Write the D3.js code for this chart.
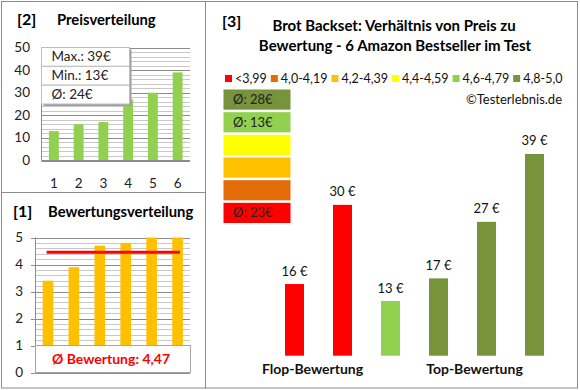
<!DOCTYPE html>
<meta charset="utf-8" />
<title>Brot Backset</title>
<script src="https://cdn.jsdelivr.net/npm/d3@7"></script>

<style>
  body {
    margin: 0;
    padding: 0;
    background: #fff;
    font-family: Lato, "Open Sans", sans-serif;
  }

  .frame {
    fill: #fff;
    stroke: #8c8c8c;
    stroke-width: 1;
  }

  .tick-label {
    font-size: 13.5px;
    fill: #222;
  }
</style>

<body>
  <div id="chart"></div>
</body>

<script>
  // panel [2] prices (sorted)
  var priceCats = ["1", "2", "3", "4", "5", "6"];
  var priceValues = [13, 16, 17, 27, 30, 39];
  var priceTicks = [0, 10, 20, 30, 40, 50];
  var priceStats = ["Max.: 39€", "Min.: 13€", "Ø: 24€"];

  // panel [1] ratings
  var ratingCats = ["1", "2", "3", "4", "5", "6"];
  var ratingValues = [3.4, 3.9, 4.7, 4.8, 5.0, 5.0];
  var ratingTicks = [0, 1, 2, 3, 4, 5];
  var ratingAvg = 4.45;
  var ratingAvgLabel = "Ø Bewertung: 4,47";

  // panel [3] price vs rating
  var mainPrices = [16, 30, 13, 17, 27, 39];
  var mainColors = ["#FF0000", "#FF0000", "#92D050", "#77933C", "#77933C", "#77933C"];
  var mainLabels = ["16 €", "30 €", "13 €", "17 €", "27 €", "39 €"];
  var groupLabels = ["Flop-Bewertung", "Top-Bewertung"];

  var legendNames = ["<3,99", "4,0-4,19", "4,2-4,39", "4,4-4,59", "4,6-4,79", "4,8-5,0"];
  var legendColors = ["#FF0000", "#E36C09", "#FFC000", "#FFFF00", "#92D050", "#77933C"];
  var stackColors = ["#77933C", "#92D050", "#FFFF00", "#FFC000", "#E36C09", "#FF0000"];
  var stackLabels = ["Ø: 28€", "Ø: 13€", "", "", "", "Ø: 23€"];

  var svg = d3.select("#chart").append("svg")
    .attr("width", 580)
    .attr("height", 390);

  // panel frames
  svg.append("rect").attr("class", "frame").attr("x", 1.5).attr("y", 1.5).attr("width", 204).attr("height", 191);
  svg.append("rect").attr("class", "frame").attr("x", 1.5).attr("y", 192.5).attr("width", 204).attr("height", 195.5);
  svg.append("rect").attr("class", "frame").attr("x", 205.5).attr("y", 1.5).attr("width", 372).attr("height", 386.5);

  // ---------- panel [2] Preisverteilung ----------
  var p2 = svg.append("g");
  p2.append("text").attr("x", 17).attr("y", 25).style("font-size", "16px").style("font-weight", "bold").text("[2]");
  p2.append("text").attr("x", 57).attr("y", 25).style("font-size", "14.8px").style("font-weight", "bold").text("Preisverteilung");

  var x2 = d3.scaleBand().domain(priceCats).range([41.5, 190]).paddingInner(0.6).paddingOuter(0.3);
  var y2 = d3.scaleLinear().domain([0, 50]).range([160.5, 47.5]);

  // minor grid
  p2.selectAll(".minor").data(d3.range(0, 51, 2)).enter().append("line")
    .attr("x1", 41.5).attr("x2", 190)
    .attr("y1", function (d) { return Math.round(y2(d)) + 0.5; })
    .attr("y2", function (d) { return Math.round(y2(d)) + 0.5; })
    .attr("stroke", "#c8c8c8");
  // major grid
  p2.selectAll(".major").data(priceTicks).enter().append("line")
    .attr("x1", 41.5).attr("x2", 190)
    .attr("y1", function (d) { return Math.round(y2(d)) + 0.5; })
    .attr("y2", function (d) { return Math.round(y2(d)) + 0.5; })
    .attr("stroke", "#8c8c8c");

  p2.selectAll(".bar").data(priceValues).enter().append("rect")
    .attr("x", function (d, i) { return x2(priceCats[i]); })
    .attr("width", x2.bandwidth())
    .attr("y", function (d) { return y2(d); })
    .attr("height", function (d) { return y2(0) - y2(d); })
    .attr("fill", "#92D050");

  p2.append("line").attr("x1", 41.5).attr("x2", 41.5).attr("y1", 47.5).attr("y2", 160.5).attr("stroke", "#8c8c8c");
  p2.append("line").attr("x1", 41.5).attr("x2", 190).attr("y1", 160.5).attr("y2", 160.5).attr("stroke", "#8c8c8c");

  p2.selectAll(".ylab").data(priceTicks).enter().append("text")
    .attr("class", "tick-label")
    .attr("x", 30).attr("y", function (d) { return y2(d) + 4.5; })
    .attr("text-anchor", "end")
    .text(function (d) { return d; });
  p2.selectAll(".xlab").data(priceCats).enter().append("text")
    .attr("class", "tick-label")
    .attr("x", function (d) { return x2(d) + x2.bandwidth() / 2; })
    .attr("y", 187.5)
    .attr("text-anchor", "middle")
    .text(function (d) { return d; });

  // stats box
  var rowH = (y2(25) - y2(50)) / priceStats.length;
  p2.append("rect").attr("x", 43.5).attr("y", 49.5).attr("width", 88).attr("height", 56.5).attr("fill", "#a0a0a0");
  p2.selectAll(".stat").data(priceStats).enter().append("rect")
    .attr("x", 41.5).attr("y", function (d, i) { return 47.5 + i * rowH; })
    .attr("width", 88).attr("height", rowH)
    .attr("fill", "#fff").attr("stroke", "#bdbdbd");
  p2.selectAll(".stattxt").data(priceStats).enter().append("text")
    .attr("x", 51.5).attr("y", function (d, i) { return 47.5 + i * rowH + rowH / 2 + 4.5; })
    .style("font-size", "13.5px").style("fill", "#222")
    .text(function (d) { return d; });

  // ---------- panel [1] Bewertungsverteilung ----------
  var p1 = svg.append("g");
  p1.append("text").attr("x", 13).attr("y", 217).style("font-size", "16px").style("font-weight", "bold").text("[1]");
  p1.append("text").attr("x", 48).attr("y", 217).style("font-size", "14.8px").style("font-weight", "bold").text("Bewertungsverteilung");

  var x1 = d3.scaleBand().domain(ratingCats).range([35.5, 190]).paddingInner(0.59).paddingOuter(0.275);
  var y1 = d3.scaleLinear().domain([0, 5]).range([372.5, 237.5]);

  p1.selectAll(".minor").data(d3.range(0, 26).map(function (d) { return d / 5; })).enter().append("line")
    .attr("x1", 35.5).attr("x2", 190)
    .attr("y1", function (d) { return Math.round(y1(d)) + 0.5; })
    .attr("y2", function (d) { return Math.round(y1(d)) + 0.5; })
    .attr("stroke", "#c8c8c8");
  p1.selectAll(".major").data(ratingTicks).enter().append("line")
    .attr("x1", 35.5).attr("x2", 190)
    .attr("y1", function (d) { return Math.round(y1(d)) + 0.5; })
    .attr("y2", function (d) { return Math.round(y1(d)) + 0.5; })
    .attr("stroke", "#8c8c8c");

  p1.selectAll(".bar").data(ratingValues).enter().append("rect")
    .attr("x", function (d, i) { return x1(ratingCats[i]); })
    .attr("width", x1.bandwidth())
    .attr("y", function (d) { return y1(d); })
    .attr("height", function (d) { return y1(0) - y1(d); })
    .attr("fill", "#FFC000");

  p1.append("line")
    .attr("x1", x1(ratingCats[0]) + 4).attr("x2", x1(ratingCats[5]) + x1.bandwidth() - 3)
    .attr("y1", y1(ratingAvg)).attr("y2", y1(ratingAvg))
    .attr("stroke", "#FF0000").attr("stroke-width", 3);

  p1.append("line").attr("x1", 35.5).attr("x2", 35.5).attr("y1", 237.5).attr("y2", 372.5).attr("stroke", "#8c8c8c");
  p1.selectAll(".tk").data(ratingTicks).enter().append("line")
    .attr("x1", 31).attr("x2", 35.5)
    .attr("y1", function (d) { return Math.round(y1(d)) + 0.5; })
    .attr("y2", function (d) { return Math.round(y1(d)) + 0.5; })
    .attr("stroke", "#8c8c8c");

  p1.selectAll(".ylab").data(ratingTicks).enter().append("text")
    .attr("class", "tick-label")
    .attr("x", 23).attr("y", function (d) { return y1(d) + 4.5; })
    .attr("text-anchor", "end")
    .text(function (d) { return d; });

  // avg box
  p1.append("rect").attr("x", 35.5).attr("y", y1(1)).attr("width", 155).attr("height", y1(0) - y1(1))
    .attr("fill", "#fff").attr("stroke", "#a6a6a6");
  p1.append("text").attr("x", 111).attr("y", (y1(0) + y1(1)) / 2 + 5)
    .attr("text-anchor", "middle")
    .style("font-size", "14px").style("font-weight", "bold").style("fill", "#FF0000")
    .text(ratingAvgLabel);

  // ---------- panel [3] ----------
  var p3 = svg.append("g");
  p3.append("text").attr("x", 222).attr("y", 27).style("font-size", "16px").style("font-weight", "bold").text("[3]");
  p3.append("text").attr("x", 394).attr("y", 31).attr("text-anchor", "middle")
    .style("font-size", "15px").style("font-weight", "bold").text("Brot Backset: Verhältnis von Preis zu");
  p3.append("text").attr("x", 395).attr("y", 51).attr("text-anchor", "middle")
    .style("font-size", "15px").style("font-weight", "bold").text("Bewertung - 6 Amazon Bestseller im Test");

  // legend
  var lg = p3.append("g");
  var lx = 225;
  legendNames.forEach(function (name, i) {
    lg.append("rect").attr("x", lx).attr("y", 75).attr("width", 7).attr("height", 7).attr("fill", legendColors[i]);
    var t = lg.append("text").attr("x", lx + 10).attr("y", 83).style("font-size", "12.5px").style("fill", "#111").text(name);
    lx += 10 + t.node().getComputedTextLength() + 4;
  });

  p3.append("text").attr("x", 562).attr("y", 104).attr("text-anchor", "end")
    .style("font-size", "13px").style("fill", "#111").text("©Testerlebnis.de");

  // colour stack
  var ys = d3.scaleBand().domain(d3.range(stackColors.length)).range([89.5, 223]).paddingInner(0.11);
  p3.selectAll(".stack").data(stackColors).enter().append("rect")
    .attr("x", 223.5).attr("width", 67)
    .attr("y", function (d, i) { return ys(i); })
    .attr("height", ys.bandwidth())
    .attr("fill", function (d) { return d; });
  p3.selectAll(".stacktxt").data(stackLabels).enter().append("text")
    .attr("x", 233).attr("y", function (d, i) { return ys(i) + ys.bandwidth() / 2 + 4.5; })
    .style("font-size", "13px").style("fill", "#222")
    .text(function (d) { return d; });

  // bars
  var x3 = d3.scaleBand().domain(d3.range(mainPrices.length)).range([270.5, 558.5]).paddingInner(0.604).paddingOuter(0.302);
  var y3 = d3.scaleLinear().domain([3.33, 40]).range([355.7, 148.3]);

  p3.selectAll(".bar").data(mainPrices).enter().append("rect")
    .attr("x", function (d, i) { return x3(i); })
    .attr("width", x3.bandwidth())
    .attr("y", function (d) { return y3(d); })
    .attr("height", function (d) { return y3(3.33) - y3(d); })
    .attr("fill", function (d, i) { return mainColors[i]; });

  p3.selectAll(".val").data(mainPrices).enter().append("text")
    .attr("x", function (d, i) { return x3(i) + x3.bandwidth() / 2; })
    .attr("y", function (d) { return y3(d) - 8.5; })
    .attr("text-anchor", "middle")
    .style("font-size", "13px").style("fill", "#111")
    .text(function (d, i) { return mainLabels[i]; });

  // group labels under the bars
  var flopX = (x3(0) + x3(1) + x3.bandwidth()) / 2 - 6;
  var topX = (x3(3) + x3(5) + x3.bandwidth()) / 2 - 12;
  p3.selectAll(".grp").data(groupLabels).enter().append("text")
    .attr("x", function (d, i) { return i === 0 ? flopX : topX; })
    .attr("y", 374)
    .attr("text-anchor", "middle")
    .style("font-size", "14px").style("font-weight", "bold").style("fill", "#111")
    .text(function (d) { return d; });
</script>
